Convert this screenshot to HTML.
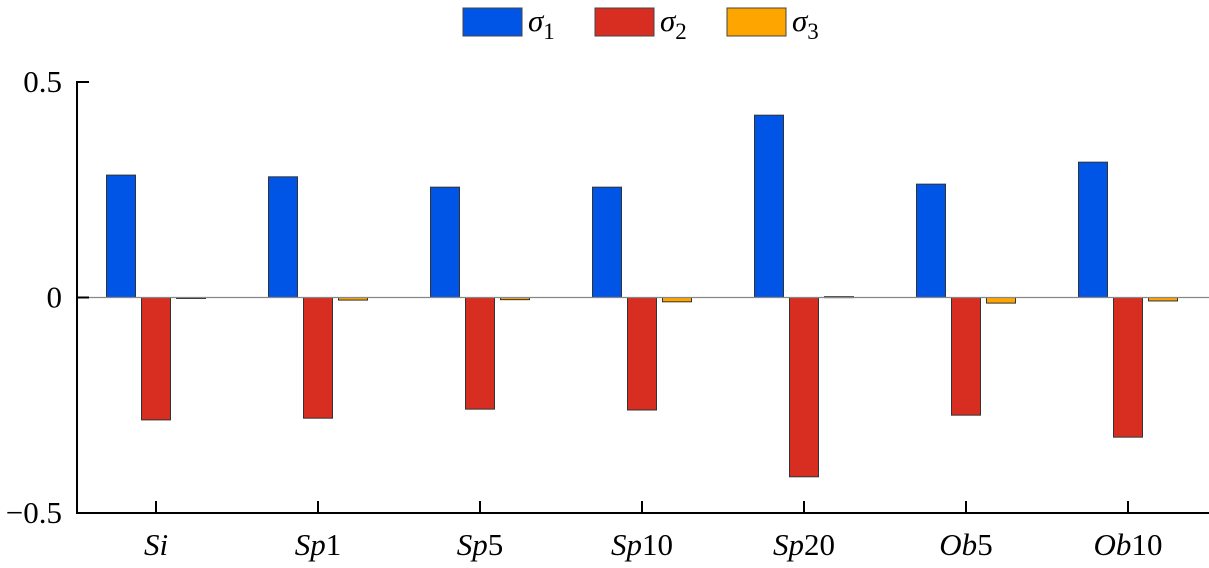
<!DOCTYPE html>
<html><head><meta charset="utf-8"><style>
body{margin:0;background:#fff;width:1209px;height:563px;overflow:hidden}
svg text{font-family:"Liberation Serif","Times New Roman","DejaVu Serif",serif}
</style></head><body>
<svg id="chart" width="1209" height="563" xmlns="http://www.w3.org/2000/svg">
<g id="legend"></g>
<g id="bars"></g>
<g id="axes"></g>
</svg>
<script>
const categories=[["Si",""],["Sp","1"],["Sp","5"],["Sp","10"],["Sp","20"],["Ob","5"],["Ob","10"]];
const sigma1=[0.284,0.280,0.256,0.256,0.423,0.263,0.314];
const sigma2=[-0.284,-0.280,-0.259,-0.261,-0.416,-0.273,-0.324];
const sigma3=[-0.001,-0.006,-0.005,-0.010,0.002,-0.013,-0.008];
const yTicks=[0.5,0,-0.5];
const yTickLabels=["0.5","0","\u22120.5"];
const seriesNames=["1","2","3"];

const NS="http://www.w3.org/2000/svg";
const colors=["#0055e6","#d82e22","#ffa500"];
const series=[sigma1,sigma2,sigma3];
const x0=77,xStart=156,step=162,bw=29,off=35;
const yScale=v=>297.5-v*431;
const xScale=i=>xStart+i*step;
function mk(tag,attrs,parent){const e=document.createElementNS(NS,tag);for(const k in attrs)e.setAttribute(k,attrs[k]);parent.appendChild(e);return e;}
const bars=document.getElementById('bars'),axes=document.getElementById('axes'),legend=document.getElementById('legend');
const zl=mk('line',{x1:x0,x2:1209,y1:yScale(0),y2:yScale(0),stroke:'#888','stroke-width':1.2},axes);


series.forEach((vals,s)=>{
  vals.forEach((v,i)=>{
    const cx=xScale(i)+(s-1)*off;
    const y=Math.min(yScale(v),yScale(0)),h=Math.max(Math.abs(yScale(v)-yScale(0)),1);
    const r=mk('rect',{x:cx-bw/2,y:y,width:bw,height:h,fill:colors[s],stroke:'#333','stroke-width':1},bars);
    
    
  });
});
const ya=mk('line',{x1:x0,x2:x0,y1:yScale(0.5)-1,y2:yScale(-0.5)+1,stroke:'#000','stroke-width':2},axes);


const xa=mk('line',{x1:x0-1,x2:1209,y1:yScale(-0.5),y2:yScale(-0.5),stroke:'#000','stroke-width':2},axes);


yTicks.forEach((t,i)=>{
  const y=yScale(t);
  mk('line',{x1:x0,x2:x0+12,y1:y,y2:y,stroke:'#000','stroke-width':2},axes);
  const tx=mk('text',{x:x0-15,y:y+10,'text-anchor':'end','font-size':31},axes);
  tx.textContent=yTickLabels[i];
  
  
});
categories.forEach((c,i)=>{
  const x=xScale(i);
  mk('line',{x1:x,x2:x,y1:yScale(-0.5),y2:yScale(-0.5)-12,stroke:'#000','stroke-width':2},axes);
  const tx=mk('text',{x:x,y:555,'text-anchor':'middle','font-size':31},axes);
  const a=mk('tspan',{'font-style':'italic'},tx);a.textContent=c[0];
  if(c[1]){const b=mk('tspan',{},tx);b.textContent=c[1];}
  
  
});
seriesNames.forEach((n,s)=>{
  const lx=463+s*132;
  const r=mk('rect',{x:lx,y:8,width:59,height:28,fill:colors[s],stroke:'#444','stroke-width':1},legend);
  
  
  const t=mk('text',{x:lx+65,y:31,'font-size':31,'font-style':'italic'},legend);
  t.textContent='\u03c3';
  const sub=mk('tspan',{'font-style':'normal','font-size':23,dy:8},t);sub.textContent=n;
  
  
});
</script>
</body></html>
